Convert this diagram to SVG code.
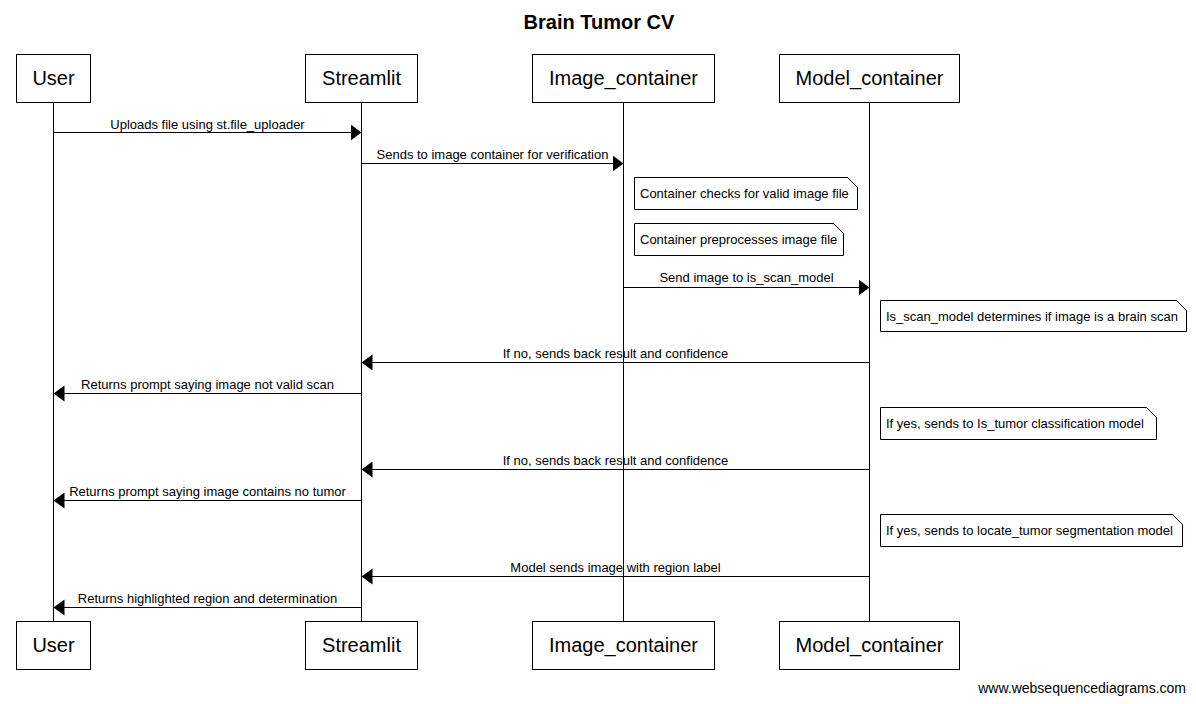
<svg xmlns="http://www.w3.org/2000/svg" width="1196" height="704" viewBox="0 0 1196 704">
<style>
.bg{fill:#ffffff}
.box{fill:#ffffff;stroke:#000000;stroke-width:1}
.pt{font-family:"Liberation Sans",Arial,sans-serif;font-size:20px;fill:#000000;text-anchor:middle}
.life{stroke:#000000;stroke-width:1}
.msg{stroke:#000000;stroke-width:1;fill:none;marker-end:url(#ah)}
.ml{font-family:"Liberation Sans",Arial,sans-serif;font-size:13px;fill:#000000;text-anchor:middle}
.note{fill:#ffffff;stroke:#000000;stroke-width:1}
.nt{font-family:"Liberation Sans",Arial,sans-serif;font-size:13px;fill:#000000}
.title{font-family:"Liberation Sans",Arial,sans-serif;font-size:20px;font-weight:bold;fill:#000000;text-anchor:middle}
.foot{font-family:"Liberation Sans",Arial,sans-serif;font-size:14px;fill:#000000;text-anchor:end}
</style>
<defs>
<marker id="ah" markerUnits="userSpaceOnUse" markerWidth="12" markerHeight="18" refX="11" refY="9" orient="auto">
<path d="M0,1 L11,9 L0,17 Z" fill="#000000"/>
</marker>
</defs>
<rect class="bg" x="0" y="0" width="1196" height="704"/>
<text class="title" x="599" y="29">Brain Tumor CV</text>

<g id="lifelines">
<line class="life" x1="53.5" y1="102" x2="53.5" y2="621"/>
<line class="life" x1="361.5" y1="102" x2="361.5" y2="621"/>
<line class="life" x1="623.5" y1="102" x2="623.5" y2="621"/>
<line class="life" x1="869.5" y1="102" x2="869.5" y2="621"/>
</g>

<g id="user">
<rect class="box" x="16.5" y="54.5" width="74" height="48"/>
<text class="pt" x="53.5" y="85">User</text>
<rect class="box" x="16.5" y="621.5" width="74" height="48"/>
<text class="pt" x="53.5" y="652">User</text>
</g>
<g id="streamlit">
<rect class="box" x="305.5" y="54.5" width="112" height="48"/>
<text class="pt" x="361.5" y="85">Streamlit</text>
<rect class="box" x="305.5" y="621.5" width="112" height="48"/>
<text class="pt" x="361.5" y="652">Streamlit</text>
</g>
<g id="image_container">
<rect class="box" x="532.5" y="54.5" width="182" height="48"/>
<text class="pt" x="623.5" y="85">Image_container</text>
<rect class="box" x="532.5" y="621.5" width="182" height="48"/>
<text class="pt" x="623.5" y="652">Image_container</text>
</g>
<g id="model_container">
<rect class="box" x="779.5" y="54.5" width="180" height="48"/>
<text class="pt" x="869.5" y="85">Model_container</text>
<rect class="box" x="779.5" y="621.5" width="180" height="48"/>
<text class="pt" x="869.5" y="652">Model_container</text>
</g>

<g id="connectors">
<line class="msg" x1="53.5" y1="132.5" x2="361.5" y2="132.5"/>
<text class="ml" x="207.5" y="129">Uploads file using st.file_uploader</text>
<line class="msg" x1="361.5" y1="163.5" x2="623.5" y2="163.5"/>
<text class="ml" x="492.5" y="159">Sends to image container for verification</text>
<line class="msg" x1="623.5" y1="287.5" x2="869.5" y2="287.5"/>
<text class="ml" x="746.5" y="282">Send image to is_scan_model</text>
<line class="msg" x1="869.5" y1="362.5" x2="361.5" y2="362.5"/>
<text class="ml" x="615.5" y="358">If no, sends back result and confidence</text>
<line class="msg" x1="361.5" y1="393.5" x2="53.5" y2="393.5"/>
<text class="ml" x="207.5" y="389">Returns prompt saying image not valid scan</text>
<line class="msg" x1="869.5" y1="469.5" x2="361.5" y2="469.5"/>
<text class="ml" x="615.5" y="465">If no, sends back result and confidence</text>
<line class="msg" x1="361.5" y1="500.5" x2="53.5" y2="500.5"/>
<text class="ml" x="207.5" y="496">Returns prompt saying image contains no tumor</text>
<line class="msg" x1="869.5" y1="576.5" x2="361.5" y2="576.5"/>
<text class="ml" x="615.5" y="572">Model sends image with region label</text>
<line class="msg" x1="361.5" y1="607.5" x2="53.5" y2="607.5"/>
<text class="ml" x="207.5" y="603">Returns highlighted region and determination</text>
</g>

<g id="note1">
<path class="note" d="M634.5,177.5 L847.5,177.5 L857.5,187.5 L857.5,209.5 L634.5,209.5 Z M847.5,177.5 L857.5,187.5"/>
<text class="nt" x="640" y="198">Container checks for valid image file</text>
</g>
<g id="note2">
<path class="note" d="M634.5,223.5 L833.5,223.5 L843.5,233.5 L843.5,255.5 L634.5,255.5 Z M833.5,223.5 L843.5,233.5"/>
<text class="nt" x="640" y="244">Container preprocesses image file</text>
</g>
<g id="note3">
<path class="note" d="M880.5,300.5 L1176.5,300.5 L1186.5,310.5 L1186.5,331.5 L880.5,331.5 Z M1176.5,300.5 L1186.5,310.5"/>
<text class="nt" x="886" y="321">Is_scan_model determines if image is a brain scan</text>
</g>
<g id="note4">
<path class="note" d="M880.5,407.5 L1146.5,407.5 L1156.5,417.5 L1156.5,439.5 L880.5,439.5 Z M1146.5,407.5 L1156.5,417.5"/>
<text class="nt" x="886" y="428">If yes, sends to Is_tumor classification model</text>
</g>
<g id="note5">
<path class="note" d="M880.5,514.5 L1172.5,514.5 L1182.5,524.5 L1182.5,546.5 L880.5,546.5 Z M1172.5,514.5 L1182.5,524.5"/>
<text class="nt" x="886" y="535">If yes, sends to locate_tumor segmentation model</text>
</g>

<text class="foot" x="1186" y="693">www.websequencediagrams.com</text>
</svg>
